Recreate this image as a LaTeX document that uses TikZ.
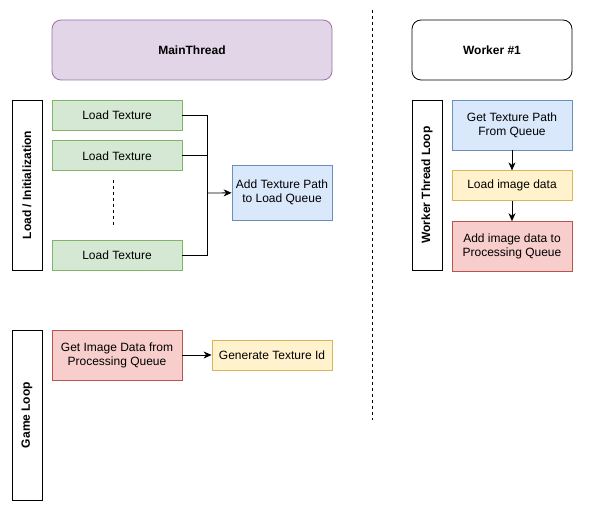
\documentclass[tikz,border=0pt]{standalone}
\usepackage{fontspec}
\setmainfont{Liberation Sans}
\usetikzlibrary{arrows.meta,positioning}
\definecolor{purplefill}{HTML}{E1D5E7}
\definecolor{purpleline}{HTML}{9673A6}
\definecolor{greenfill}{HTML}{D5E8D4}
\definecolor{greenline}{HTML}{82B366}
\definecolor{bluefill}{HTML}{DAE8FC}
\definecolor{blueline}{HTML}{6C8EBF}
\definecolor{yellowfill}{HTML}{FFF2CC}
\definecolor{yellowline}{HTML}{D6B656}
\definecolor{redfill}{HTML}{F8CECC}
\definecolor{redline}{HTML}{B85450}

\begin{document}
\begin{tikzpicture}[x=1pt,y=-1pt,->,>={Stealth[length=8pt,width=7pt,inset=2.5pt]},
                    line width=0.8pt,font=\fontsize{12}{14}\selectfont]
  \tikzstyle{every node}=[inner sep=0pt,align=center]
  \tikzstyle{thread}=[rectangle,rounded corners=9pt,draw=black,minimum width=160,minimum height=60,font=\fontsize{12}{14}\selectfont\bfseries]
  \tikzstyle{loopbox}=[rectangle,draw=black,rotate=90,minimum width=170,minimum height=30,font=\fontsize{12}{14}\selectfont\bfseries]
  \tikzstyle{task}=[rectangle,minimum width=130,minimum height=30]
  \tikzstyle{green}=[task,draw=greenline,fill=greenfill]
  \tikzstyle{blue}=[task,draw=blueline,fill=bluefill]
  \tikzstyle{yellow}=[task,draw=yellowline,fill=yellowfill]
  \tikzstyle{red}=[task,draw=redline,fill=redfill]

  \useasboundingbox (0,0) rectangle (590,511);

  \node[thread,draw=purpleline,fill=purplefill,minimum width=280] (MT) at (192,50) {MainThread};
  \node[thread] (W) at (492,50) {Worker \#1};
  \coordinate (st) at (372,10);
  \coordinate (en) at (372,420);
  \draw[-,dashed] (st) -- (en);

  \node[loopbox] (LI) at (27,185) {Load / Initialization};
  \node[green] (L1) at (117,115) {Load Texture};
  \node[green] (L2) [below=10pt of L1] {Load Texture};
  \node[green] (L3) at (117,255) {Load Texture};
  \coordinate (d1) at (113,180);
  \coordinate (d2) at (113,225);
  \draw[-,dashed] (d1) -- (d2);
  \node[blue,minimum width=100,minimum height=55] (AQ) at (282,192.5) {Add Texture Path\\to Load Queue};
  \coordinate (jn) at (207,193);
  \draw[-] (L1.east) -| (jn) (L2.east) -| (jn) (L3.east) -| (jn);
  \path (jn) edge (AQ);

  \node[loopbox] (WL) at (427,185) {Worker Thread Loop};
  \node[blue,minimum width=120,minimum height=50] (GP) at (512,125) {Get Texture Path\\From Queue};
  \node[yellow,minimum width=120] (LD) [below=20pt of GP] {Load image data};
  \node[red,minimum width=120,minimum height=50] (AP) [below=20pt of LD] {Add image data to\\Processing Queue};
  \path (GP) edge (LD)
        (LD) edge (AP);

  \node[loopbox] (GL) at (27,415) {Game Loop};
  \node[red,minimum height=50] (GI) at (117,355) {Get Image Data from\\Processing Queue};
  \node[yellow,minimum width=120] (GT) at (272,355) {Generate Texture Id};
  \path (GI) edge (GT);
\end{tikzpicture}
\end{document}
